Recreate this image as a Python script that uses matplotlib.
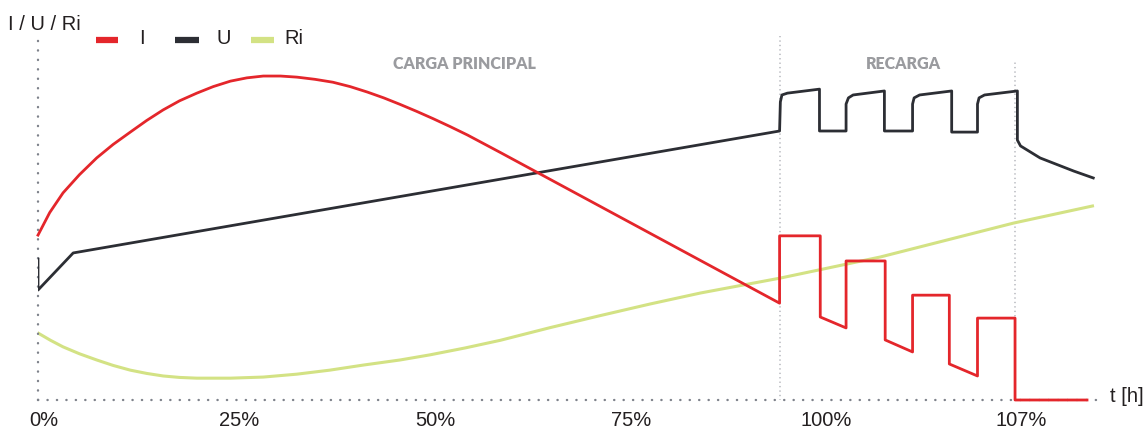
import matplotlib
matplotlib.use('Agg')
import matplotlib.pyplot as plt
from matplotlib.lines import Line2D
from matplotlib.transforms import ScaledTranslation

# tiempo en % de la escala del eje, valores en % de la altura del eje
t_fin_carga = 94.8
t_fin_recarga = 124.9
t_max = 136.4

i_t = [0, 1.5, 3.2, 5.3, 7.5, 9.6, 11.8, 13.9, 16.0, 18.1, 20.3, 22.4, 24.6, 26.7, 28.8, 31.0,
       33.1, 35.4, 37.7, 39.9, 42.1, 44.2, 46.3, 48.4, 50.5, 52.7, 54.9, 59.1,
       94.8, 94.8, 100.0, 100.0, 103.3, 103.3, 108.3, 108.3, 111.8, 111.8, 116.5, 116.5, 120.1, 120.1,
       124.9, 124.9, 134.1]
i_val = [45.3, 51.5, 56.9, 61.9, 66.5, 70.2, 73.6, 76.8, 79.7, 82.2, 84.3, 86.1, 87.6, 88.5, 89.0, 89.0,
         88.7, 88.1, 87.3, 86.1, 84.6, 83.0, 81.2, 79.3, 77.3, 75.1, 72.8, 68.0,
         26.6, 45.1, 45.1, 22.8, 19.8, 38.2, 38.2, 16.5, 13.2, 28.8, 28.8, 9.9, 6.6, 22.5,
         22.5, 0.0, 0.0]

u_t = [0, 0, 4.5, 94.8, 94.9, 95.1, 95.8, 99.9, 99.9, 103.3, 103.3, 103.6, 104.2, 108.2, 108.2,
       111.8, 111.8, 112.0, 112.7, 116.8, 116.8, 120.1, 120.1, 120.3, 121.0, 125.2, 125.2, 125.6,
       128.1, 132.4, 134.9]
u_val = [38.7, 30.2, 40.4, 73.9, 81.9, 83.8, 84.3, 85.4, 73.9, 73.9, 81.3, 83.0, 83.8, 84.9, 73.9,
         73.9, 81.3, 83.0, 83.8, 84.9, 73.6, 73.6, 81.3, 83.0, 83.8, 84.9, 71.4, 69.8,
         66.5, 62.9, 61.0]

ri_t = [0, 1.6, 3.2, 5.3, 7.5, 9.6, 11.8, 13.9, 16.0, 18.1, 20.3, 24.6, 28.8, 33.1, 37.3, 41.6,
        46.3, 50.1, 54.6, 59.1, 65.5, 71.9, 78.3, 84.7, 94.9, 107.7, 124.7, 134.8]
ri_val = [18.4, 16.4, 14.6, 12.7, 11.0, 9.5, 8.2, 7.3, 6.6, 6.2, 6.0, 6.0, 6.3, 7.1, 8.2, 9.6,
          11.0, 12.4, 14.3, 16.4, 19.9, 23.2, 26.4, 29.4, 33.5, 39.3, 48.6, 53.3]

tick_pos = [0, 25, 50, 75, 100, t_fin_recarga]
tick_txt = ['0%', '25%', '50%', '75%', '100%', '107%']

series = ['I', 'U', 'Ri']
rojo = '#e4262b'
negro = '#2c2e34'
verde = '#d3e284'
colores = [rojo, negro, verde]
texto = '#231f20'

plt.rcParams['font.family'] = ['Liberation Sans Narrow', 'Liberation Sans']

W, H = 1145, 430
fig = plt.figure(figsize=(W / 100, H / 100), dpi=100)
ax = fig.add_axes([38 / W, 30 / H, (1105 - 38) / W, 364 / H])
ax.set_xlim(0, t_max)
ax.set_ylim(0, 100)

# separadores de las fases
ax.plot([t_fin_carga, t_fin_carga], [0, 100], color='#a9abb2', lw=1.1,
        linestyle=(0, (0.1, 2.8)), dash_capstyle='round', zorder=1)
ax.plot([t_fin_recarga, t_fin_recarga], [0, 93], color='#a9abb2', lw=1.1,
        linestyle=(0, (0.1, 2.8)), dash_capstyle='round', zorder=1)

ax.plot(ri_t, ri_val, color=verde, lw=2.2, zorder=2, solid_joinstyle='round')
ax.plot(u_t, u_val, color=negro, lw=2.0, zorder=3, solid_joinstyle='round')
ax.plot(i_t, i_val, color=rojo, lw=2.0, zorder=4, clip_on=False, solid_joinstyle='round')

for lado in ['top', 'right']:
    ax.spines[lado].set_visible(False)
for lado in ['bottom', 'left']:
    ax.spines[lado].set_color('#7e828b')
    ax.spines[lado].set_linewidth(1.7)
    ax.spines[lado].set_linestyle((0, (0.1, 3.9)))
    ax.spines[lado].set_capstyle('round')

ax.set_yticks([])
ax.set_xticks(tick_pos)
ax.set_xticklabels(tick_txt, fontsize=14.5, color=texto)
ax.tick_params(axis='x', length=0, pad=8)
desplaza = ScaledTranslation(6 / 100, 0, fig.dpi_scale_trans)
for lbl in ax.get_xticklabels():
    lbl.set_transform(lbl.get_transform() + desplaza)

fig.text(464 / W, 1 - 64 / H, 'CARGA PRINCIPAL', ha='center', va='center',
         fontsize=11.5, fontweight='heavy', color='#9a9b9f', family='Lato')
fig.text(903 / W, 1 - 64 / H, 'RECARGA', ha='center', va='center',
         fontsize=11.5, fontweight='heavy', color='#9a9b9f', family='Lato')

fig.text(8 / W, 1 - 24 / H, 'I / U / Ri', ha='left', va='center', fontsize=14.5, color=texto)
fig.text(1110 / W, 1 - 397 / H, 't [h]', ha='left', va='center', fontsize=14.5, color=texto)

# leyenda: barra de color y nombre de cada serie
barras = [(96, 118), (175, 199), (251, 274)]
x_nombres = [139, 217, 284]
for nombre, color, (x0, x1), xn in zip(series, colores, barras, x_nombres):
    fig.add_artist(Line2D([x0 / W, x1 / W], [1 - 40 / H, 1 - 40 / H], color=color, lw=4.5,
                          solid_capstyle='butt', transform=fig.transFigure))
    fig.text(xn / W, 1 - 38 / H, nombre, ha='left', va='center', fontsize=14.5, color=texto)

plt.savefig('out.png', dpi=100)
